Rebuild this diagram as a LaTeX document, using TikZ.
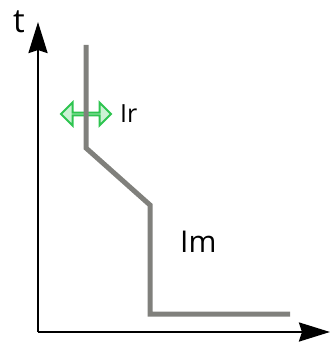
\documentclass[tikz,border=0pt]{standalone}
\usepackage{fontspec}
\setmainfont{Open Sans}
\usepackage{tikz}
\usepackage{xcolor}
\usetikzlibrary{arrows.meta,positioning,shapes.arrows}
\definecolor{axisBlack}{RGB}{0,0,0}
\definecolor{curveGray}{RGB}{128,128,124}
\definecolor{setGreen}{RGB}{46,196,80}
\definecolor{setFill}{RGB}{204,242,212}
\tikzset{
  axis/.style={-{Stealth[length=31pt, width=19pt, inset=3pt]}, line width=2.4pt, color=axisBlack},
  curve/.style={line width=5pt, color=curveGray, line join=miter},
  setting/.style={double arrow, double arrow tip angle=90, double arrow head extend=7pt, draw=setGreen, fill=setFill, line width=2pt, minimum height=50pt, minimum width=23pt, inner sep=0pt},
  lbl/.style={inner sep=0pt, anchor=base west}
}

\begin{document}
\begin{tikzpicture}[x=1pt, y=-1pt]
  \useasboundingbox (0,0) rectangle (331,363);
  \coordinate (o) at (38,332);
  \coordinate (tmax) at (38,22);
  \coordinate (imax) at (330,332);

  \node[setting] (ir) at (86,114) {};

  % trip curve
  \draw[curve] (86,45) -- (86,148) -- (150,205) -- (150,314) -- (290,314);

  \draw[axis] (o) -- (tmax);
  \draw[axis] (o) -- (imax);

  \node[lbl, font=\fontsize{33}{33}\selectfont] (tlbl) at (13,33) {t};
  \node[lbl, font=\fontsize{25}{25}\selectfont] (irlbl) at (120,123) {Ir};
  \node[lbl, font=\fontsize{30}{30}\selectfont] (imlbl) at (180,252) {Im};
\end{tikzpicture}
\end{document}
